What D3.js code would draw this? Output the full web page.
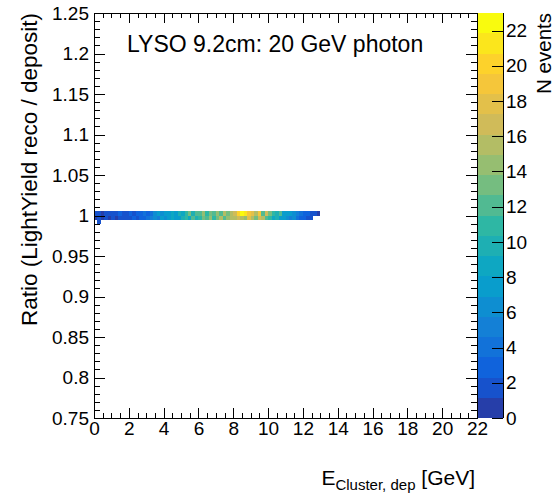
<!DOCTYPE html>
<html>
<head>
<meta charset="utf-8">
<script src="https://cdn.jsdelivr.net/npm/d3@7"></script>
<style>
  body { margin: 0; background: #fff; }
  svg { font-family: "Liberation Sans", Arial, Helvetica, sans-serif; }
</style>
</head>
<body>
<svg id="chart" width="554" height="496"></svg>
<script>
// bin grid: 0.2 GeV in x, 0.005 in ratio
const binWidthX = 0.2;
const binWidthY = 0.005;

// counts per x-bin starting at 0 GeV, row 1.000-1.005
const upperRow = [
  2, 2, 1, 2, 2,   2, 2, 3, 2, 2,   3, 2, 3, 3, 4,   3, 4, 6, 7, 6,
  8, 7, 9, 8, 10,  9, 11, 13, 10, 12,  12, 14, 11, 13, 12,  14, 12, 15, 13, 16,
  17, 20, 22, 21, 19,  18, 15, 19, 12, 17,  13, 11, 10, 12, 8,  7, 8, 6, 5, 4,
  3, 3, 2, 2, 1
];
// counts per x-bin starting at 0 GeV, row 0.995-1.000
const lowerRow = [
  1, 2, 1, 2, 1,   2, 1, 2, 2, 2,   2, 3, 2, 3, 3,   4, 5, 6, 5, 7,
  6, 8, 9, 7, 8,   10, 11, 9, 12, 10,  11, 13, 12, 14, 11,  13, 15, 12, 14, 16,
  15, 17, 16, 14, 18,  16, 13, 17, 15, 12,  11, 9, 10, 8, 7,  6, 5, 6, 4, 3,
  3, 2, 2
];
// stray bins: [x low edge, y low edge, count]
const extraBins = [[0.2, 0.99, 2]];

const xTicks = d3.range(0, 23, 2);
const yTicks = [0.75, 0.8, 0.85, 0.9, 0.95, 1, 1.05, 1.1, 1.15, 1.2, 1.25];
const zTicks = d3.range(0, 23, 2);
const zMax = 23;
const nContours = 20;

// ROOT kBird palette
const birdStops = [0, 0.125, 0.25, 0.375, 0.5, 0.625, 0.75, 0.875, 1];
const birdR = [0.2082, 0.0592, 0.0780, 0.0232, 0.1802, 0.5301, 0.8186, 0.9956, 0.9764];
const birdG = [0.1664, 0.3599, 0.5041, 0.6419, 0.7178, 0.7492, 0.7328, 0.7862, 0.9832];
const birdB = [0.5293, 0.8684, 0.8385, 0.7914, 0.6425, 0.4662, 0.3499, 0.1968, 0.0539];

const bird = d3.scaleLinear()
  .domain(birdStops)
  .range(birdStops.map((s, i) => d3.rgb(birdR[i] * 255, birdG[i] * 255, birdB[i] * 255)))
  .interpolate(d3.interpolateRgb);

const levelColor = (i) => bird((i + 0.99) / nContours);
const countColor = (c) => levelColor(Math.min(nContours - 1, Math.floor(c / zMax * nContours)));

// build bin list
const bins = [];
upperRow.forEach((c, i) => bins.push({ x0: i * binWidthX, y0: 1.0, c }));
lowerRow.forEach((c, i) => bins.push({ x0: i * binWidthX, y0: 0.995, c }));
extraBins.forEach((b) => bins.push({ x0: b[0], y0: b[1], c: b[2] }));

const svg = d3.select("#chart");
const frame = { left: 94, right: 477, top: 13, bottom: 418 };

const x = d3.scaleLinear().domain([0, 22]).range([frame.left, frame.right]);
const y = d3.scaleLinear().domain([0.75, 1.25]).range([frame.bottom, frame.top]);
const z = d3.scaleLinear().domain([0, zMax]).range([frame.bottom, frame.top]);

// cut-off histogram title at the very top
svg.append("text")
  .attr("x", 413).attr("y", -3)
  .attr("text-anchor", "end")
  .attr("font-size", 15)
  .attr("fill", "#444")
  .text("Cluster, dep");

// heat map cells
svg.append("g")
  .selectAll("rect")
  .data(bins.filter((d) => d.c > 0))
  .join("rect")
  .attr("x", (d) => x(d.x0))
  .attr("y", (d) => y(d.y0 + binWidthY))
  .attr("width", (d) => x(d.x0 + binWidthX) - x(d.x0))
  .attr("height", (d) => y(d.y0) - y(d.y0 + binWidthY))
  .attr("fill", (d) => countColor(d.c))
  .attr("shape-rendering", "crispEdges");

// axes, ticks on all four sides pointing inward
function styleAxis(g) {
  g.select(".domain").remove();
  g.selectAll("line").attr("stroke", "#000").attr("shape-rendering", "crispEdges");
  g.selectAll("text").attr("font-size", 19).attr("fill", "#000")
    .attr("font-family", "'Liberation Sans', Arial, sans-serif");
}

const xMinor = d3.range(0, 22.01, 0.5);
const yMinor = d3.range(0, 51).map((i) => 0.75 + i * 0.01);

svg.append("g")
  .attr("transform", `translate(0,${frame.bottom})`)
  .call(d3.axisBottom(x).tickValues(xTicks).tickSize(-10).tickPadding(3).tickFormat(d3.format("d")))
  .call(styleAxis);
svg.append("g")
  .attr("transform", `translate(0,${frame.bottom})`)
  .call(d3.axisBottom(x).tickValues(xMinor).tickSize(-5).tickFormat(""))
  .call(styleAxis);
svg.append("g")
  .attr("transform", `translate(0,${frame.top})`)
  .call(d3.axisTop(x).tickValues(xTicks).tickSize(-10).tickFormat(""))
  .call(styleAxis);
svg.append("g")
  .attr("transform", `translate(0,${frame.top})`)
  .call(d3.axisTop(x).tickValues(xMinor).tickSize(-5).tickFormat(""))
  .call(styleAxis);

svg.append("g")
  .attr("transform", `translate(${frame.left},0)`)
  .call(d3.axisLeft(y).tickValues(yTicks).tickSize(-11).tickPadding(5).tickFormat((d) => String(+d.toFixed(2))))
  .call(styleAxis);
svg.append("g")
  .attr("transform", `translate(${frame.left},0)`)
  .call(d3.axisLeft(y).tickValues(yMinor).tickSize(-6).tickFormat(""))
  .call(styleAxis);
svg.append("g")
  .attr("transform", `translate(${frame.right},0)`)
  .call(d3.axisRight(y).tickValues(yTicks).tickSize(-11).tickFormat(""))
  .call(styleAxis);
svg.append("g")
  .attr("transform", `translate(${frame.right},0)`)
  .call(d3.axisRight(y).tickValues(yMinor).tickSize(-6).tickFormat(""))
  .call(styleAxis);

// frame
svg.append("rect")
  .attr("x", frame.left).attr("y", frame.top)
  .attr("width", frame.right - frame.left)
  .attr("height", frame.bottom - frame.top)
  .attr("fill", "none").attr("stroke", "#000")
  .attr("shape-rendering", "crispEdges");

// colour palette
const palX0 = 478, palX1 = 503;
const levels = d3.range(nContours);
svg.append("g")
  .selectAll("rect")
  .data(levels)
  .join("rect")
  .attr("x", palX0)
  .attr("y", (i) => z((i + 1) * zMax / nContours))
  .attr("width", palX1 - palX0)
  .attr("height", (i) => z(i * zMax / nContours) - z((i + 1) * zMax / nContours))
  .attr("fill", (i) => levelColor(i))
  .attr("shape-rendering", "crispEdges");

svg.append("line")
  .attr("x1", palX1).attr("x2", palX1)
  .attr("y1", frame.top).attr("y2", frame.bottom)
  .attr("stroke", "#000").attr("shape-rendering", "crispEdges");

svg.append("g")
  .attr("transform", `translate(${palX1},0)`)
  .call(d3.axisRight(z).tickValues(zTicks).tickSize(-11).tickPadding(3).tickFormat(d3.format("d")))
  .call(styleAxis);

// axis titles
const xTitle = svg.append("text")
  .attr("x", 475).attr("y", 485)
  .attr("text-anchor", "end")
  .attr("font-size", 21);
xTitle.append("tspan").text("E");
xTitle.append("tspan").attr("font-size", 15).attr("dy", 5).text("Cluster, dep");
xTitle.append("tspan").attr("dy", -5).text(" [GeV]");

svg.append("text")
  .attr("transform", "translate(37,13) rotate(-90)")
  .attr("text-anchor", "end")
  .attr("font-size", 22.5)
  .text("Ratio (LightYield reco / deposit)");

svg.append("text")
  .attr("transform", "translate(551,13) rotate(-90)")
  .attr("text-anchor", "end")
  .attr("font-size", 20.5)
  .text("N events");

// label inside the pad
svg.append("text")
  .attr("x", 127).attr("y", 52)
  .attr("font-size", 23)
  .text("LYSO 9.2cm: 20 GeV photon");
</script>
</body>
</html>
